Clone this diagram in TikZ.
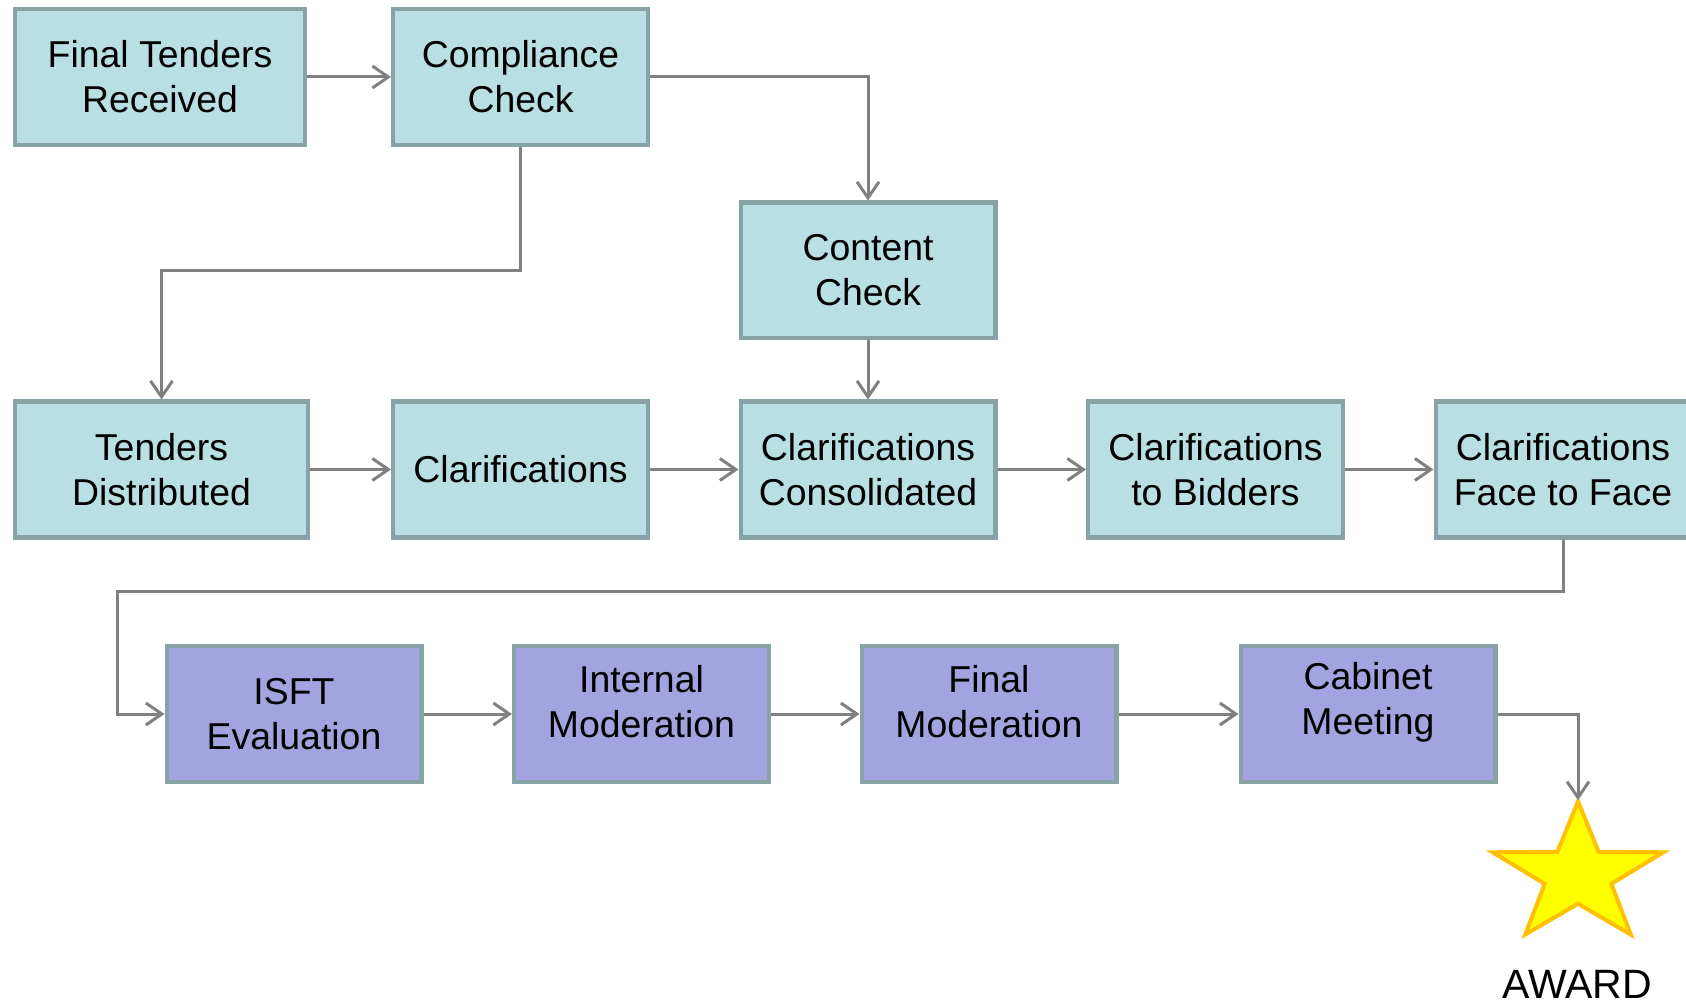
\documentclass[tikz,border=0pt]{standalone}
\usepackage{fontspec}
\setmainfont{Liberation Sans}
\usetikzlibrary{arrows.meta,positioning,shapes.geometric}
\definecolor{boxteal}{HTML}{B8DFE3}
\definecolor{boxpurple}{HTML}{A3A3DF}
\definecolor{boxedge}{HTML}{88A3A6}
\definecolor{flowgray}{HTML}{808080}
\definecolor{starfill}{HTML}{FFFF00}
\definecolor{staredge}{HTML}{FFC000}

\begin{document}
\begin{tikzpicture}[x=0.5pt,y=-0.5pt,
  stagetext/.style={align=center,font=\fontsize{18.7pt}{22.5pt}\selectfont},
  stage/.style={rectangle,draw=boxedge,line width=2.2pt,fill=boxteal,minimum width=127.3pt,minimum height=67.8pt,inner sep=0pt,stagetext},
  evalstage/.style={stage,fill=boxpurple},
  flow/.style={draw=flowgray,line width=1.5pt,-{Straight Barb[length=8pt,width=11pt]}}]
\clip (0,0) rectangle (1686,1005);

\begin{scope}[node distance=44.25pt]
\node [stage, minimum width=144.8pt] (ftr) at (160,77) {Final Tenders\\Received};
\node [stage] (compl) [right=42pt of ftr] {Compliance\\Check};
\node [stage, minimum width=146.3pt] (tdist) at (161.5,469.5) {Tenders\\Distributed};
\node [stage] (clar) [right=40.5pt of tdist] {Clarifications};
\node [stage] (consol) [right=of clar] {Clarifications\\Consolidated};
\node [stage] (content) [above=29.5pt of consol] {Content\\Check};
\node [stage] (bidders) [right=of consol] {Clarifications\\to Bidders};
\node [stage] (face) [right=of bidders] {Clarifications\\Face to Face};
\node [evalstage] (isft) at (294,714) {ISFT\\Evaluation};
\node [evalstage, label={[name=intmodtext,stagetext,yshift=6pt]center:Internal\\Moderation}] (intmod) [right=of isft] {};
\node [evalstage, label={[name=finmodtext,stagetext,yshift=6pt]center:Final\\Moderation}] (finmod) [right=of intmod] {};
\node [evalstage, label={[name=cabinettext,stagetext,yshift=6pt]center:Cabinet\\Meeting}] (cabinet) [right=60pt of finmod] {};
\end{scope}

\coordinate (starc) at (1578,875);
\node [star, star points=5, star point ratio=2.56, minimum size=73.5pt, inner sep=0pt, draw=staredge, fill=starfill, line width=2pt, xscale=1.22, transform shape] (award) at (starc) {};
\node [font=\fontsize{20.5pt}{24pt}\selectfont, anchor=base] (awardtext) at (1577,998) {AWARD};

\coordinate (split) at (compl.south |- content.center);
\coordinate (wrap) at (117,591);

\draw [flow] (ftr) -- (compl);
\draw [flow] (compl.east) -| (content.north);
\draw [flow] (compl.south) -- (split) -| (tdist.north);
\draw [flow] (content) -- (consol);
\draw [flow] (tdist) -- (clar);
\draw [flow] (clar) -- (consol);
\draw [flow] (consol) -- (bidders);
\draw [flow] (bidders) -- (face);
\draw [flow] (face.south) |- (wrap) |- (isft.west);
\draw [flow] (isft) -- (intmod);
\draw [flow] (intmod) -- (finmod);
\draw [flow] (finmod) -- (cabinet);
\draw [flow, shorten >=-2.5pt] (cabinet.east) -| (award.north);
\end{tikzpicture}
\end{document}
